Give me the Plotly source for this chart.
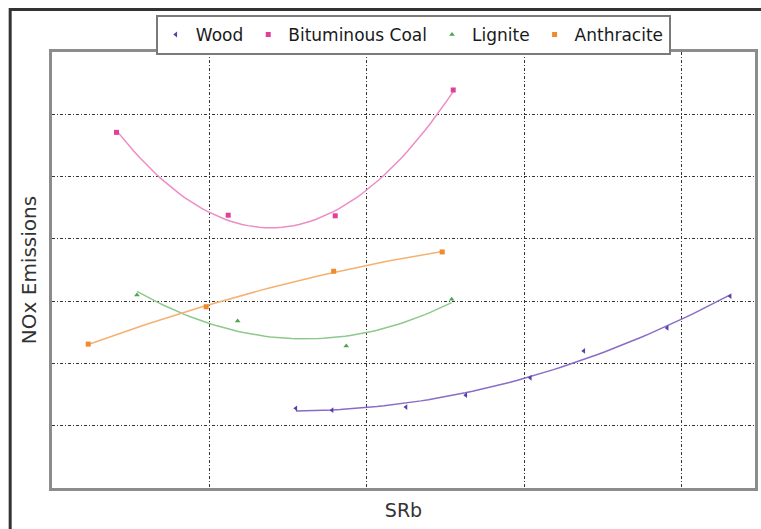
import numpy as np
import plotly.graph_objects as go

# ---- data (arbitrary units, no tick labels shown) ----
wood_x = [1.55, 1.78, 2.25, 2.63, 3.04, 3.38, 3.91, 4.31]
wood_y = [1.28, 1.25, 1.30, 1.49, 1.77, 2.20, 2.57, 3.08]

bit_x = [0.41, 1.12, 1.80, 2.55]
bit_y = [5.71, 4.38, 4.37, 6.39]

lig_x = [0.54, 1.18, 1.87, 2.54]
lig_y = [3.10, 2.68, 2.28, 3.03]

ant_x = [0.23, 0.98, 1.79, 2.48]
ant_y = [2.31, 2.91, 3.48, 3.79]

series = [
    ("Wood", wood_x, wood_y, "#5b3fa6", "#8a6cc8", "triangle-left"),
    ("Bituminous Coal", bit_x, bit_y, "#e0409a", "#ee8cc6", "square"),
    ("Lignite", lig_x, lig_y, "#4ea54e", "#8cc98c", "triangle-up"),
    ("Anthracite", ant_x, ant_y, "#f08a2a", "#f6b070", "square"),
]

fig = go.Figure()
for name, xs, ys, mcol, lcol, sym in series:
    # 2nd-order polynomial trendline computed from the data
    coef = np.polyfit(xs, ys, 2)
    xt = np.linspace(min(xs), max(xs), 60)
    yt = np.polyval(coef, xt)
    fig.add_trace(go.Scatter(x=xt, y=yt, mode="lines", line=dict(color=lcol, width=1.5),
                             showlegend=False, legendgroup=name, hoverinfo="skip"))
for name, xs, ys, mcol, lcol, sym in series:
    fig.add_trace(go.Scatter(x=xs, y=ys, mode="markers", name=name, legendgroup=name,
                             marker=dict(color=mcol, size=5, symbol=sym)))

grid = dict(showgrid=True, gridcolor="#333333", gridwidth=1, griddash="3px,2px,1px,2px",
            zeroline=False, showticklabels=False, ticks="", showline=True, mirror=True,
            linecolor="#8c8c8c", linewidth=2.5, dtick=1, tick0=0)

FONT = "DejaVu Sans, Verdana, sans-serif"

fig.update_layout(
    width=761, height=529,
    margin=dict(l=52, r=3, t=52, b=41),
    paper_bgcolor="white", plot_bgcolor="white",
    font=dict(family=FONT, color="#222222", size=18),
    xaxis=dict(range=[0, 4.468], title=dict(text="SRb", font=dict(size=19, color="#333333"), standoff=14), **grid),
    yaxis=dict(range=[0, 7], title=dict(text="NOx Emissions", font=dict(size=20, color="#333333"), standoff=8), **grid),
    legend=dict(orientation="h", x=0.514, xanchor="center", y=1.085, yanchor="top",
                bordercolor="#7a7a7a", borderwidth=2, bgcolor="white",
                font=dict(size=17, color="#1a1a1a", family=FONT), itemwidth=30, tracegroupgap=0),
    shapes=[dict(type="rect", xref="paper", yref="paper",
                 x0=(10 - 52) / 706, x1=(790 - 52) / 706,
                 y0=-0.2, y1=1 + (52 - 9.5) / 436,
                 line=dict(color="#333333", width=3), layer="below")],
)

fig.write_html("out.html")
